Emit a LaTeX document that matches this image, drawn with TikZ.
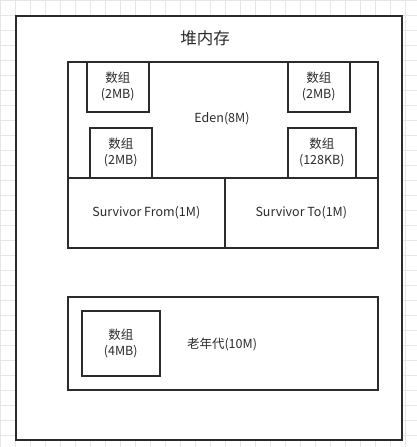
\documentclass[tikz,border=0pt]{standalone}
\usepackage{fontspec}
\setmainfont{Noto Sans CJK SC}
\definecolor{ink}{HTML}{2B2B2B}
\definecolor{gridc}{HTML}{E6E6E6}
\begin{document}
\begin{tikzpicture}[x=1pt,y=-1pt,
  box/.style={draw=ink,line width=1.6pt,fill=white},
  lbl/.style={text=ink,font=\fontsize{12.5}{15}\selectfont,align=center,inner sep=0pt},
  arr/.style={box,align=center,text=ink,font=\fontsize{12.5}{16}\selectfont,inner sep=0pt}]
\useasboundingbox (0,0) rectangle (417,447);
\draw[gridc,line width=0.5pt] (0,0) grid[step=15pt] (417,447);
\node[box,minimum width=386pt,minimum height=424pt,anchor=north west] (heap) at (15,15) {};
\node[text=ink,font=\fontsize{16.5}{20}\selectfont,inner sep=0pt] (title) at (205,38) {堆内存};
% young generation block
\node[box,minimum width=310pt,minimum height=186pt,anchor=north west] (young) at (67,61) {};
\node[box,minimum width=157pt,minimum height=70pt,anchor=north west] (from) at (67,177) {};
\node[box,minimum width=153pt,minimum height=70pt,anchor=north west] (to) at (224,177) {};
\node[lbl] (fromlbl) at (from.center) {Survivor From(1M)};
\node[lbl] (tolbl) at (to.center) {Survivor To(1M)};
\node[lbl] (eden) at (222,119) {Eden(8M)};
\node[arr,minimum width=62pt,minimum height=50pt,anchor=north west] (a1) at (86,61) {数组\\(2MB)};
\node[arr,minimum width=62pt,minimum height=50pt,anchor=north west] (a2) at (287,61) {数组\\(2MB)};
\node[arr,minimum width=62pt,minimum height=50pt,anchor=north west] (a3) at (89,127) {数组\\(2MB)};
\node[arr,minimum width=68pt,minimum height=50pt,anchor=north west] (a4) at (287,127) {数组\\(128KB)};
% old generation
\node[box,minimum width=310pt,minimum height=93pt,anchor=north west] (old) at (67,296) {};
\node[arr,minimum width=78pt,minimum height=65pt,anchor=north west] (a5) at (81,310) {数组\\(4MB)};
\node[lbl] (oldlbl) at (222,344) {老年代(10M)};
\end{tikzpicture}
\end{document}
